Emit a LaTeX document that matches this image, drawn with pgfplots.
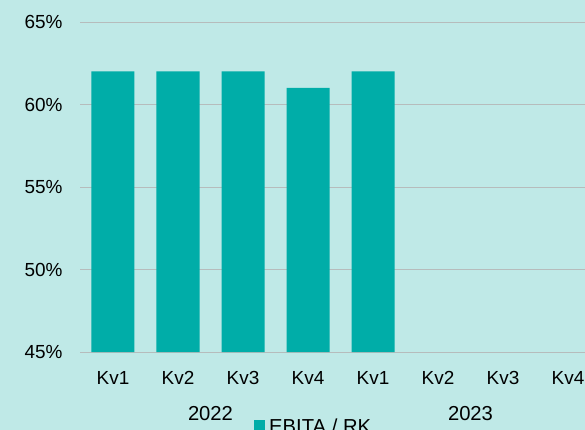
\documentclass[border=0pt]{standalone}
\usepackage{fontspec}
\setmainfont{Liberation Sans}
\usepackage{pgfplots}
\pgfplotsset{compat=1.18}
\definecolor{bgcol}{RGB}{191,233,231}
\definecolor{barcol}{RGB}{0,173,168}
\definecolor{gridcol}{RGB}{182,188,188}
\newcommand{\fsz}{\fontsize{19}{22}\selectfont}
\newcommand{\fszb}{\fontsize{20.3}{24}\selectfont}
\begin{document}
\begin{tikzpicture}
\fill[bgcol] (-80.5bp,-78bp) rectangle (504.5bp,352bp);
\begin{axis}[
  at={(0,0)}, anchor=south west,
  scale only axis,
  width=504.5bp, height=330bp,
  xmin=-0.5, xmax=7.2615,
  ymin=45, ymax=65,
  ytick={45,50,55,60,65},
  yticklabels={45\%,50\%,55\%,60\%,65\%},
  xtick={0,1,2,3,4,5,6,7},
  xticklabels={Kv1,Kv2,Kv3,Kv4,Kv1,Kv2,Kv3,Kv4},
  axis line style={draw=none},
  major tick length=0pt,
  ymajorgrids,
  grid style={draw=gridcol, line width=0.9bp},
  tick label style={font=\fsz},
  yticklabel style={anchor=east, xshift=-14.5bp},
  xticklabel style={anchor=center, yshift=-26bp},
  ybar, bar width=43bp,
  clip mode=individual,
  legend style={at={(axis description cs:0.344,-0.2258)}, anchor=west,
    draw=none, fill=none, inner sep=0pt, font=\fszb,
    /tikz/every odd column/.append style={column sep=2bp}},
  legend image code/.code={\fill[barcol] (0bp,-4.5bp) rectangle (11bp,6.5bp);},
]
\addplot[fill=barcol, draw=none] coordinates {(0,62) (1,62) (2,62) (3,61) (4,62)};
\addlegendentry{EBITA / RK}
\node[font=\fszb] at (axis cs:1.5,45) [yshift=-61.5bp] {2022};
\node[font=\fszb] at (axis cs:5.5,45) [yshift=-61.5bp] {2023};
\end{axis}
\pgfresetboundingbox
\useasboundingbox (-80.5bp,-78bp) rectangle (504.5bp,352bp);
\end{tikzpicture}
\end{document}
